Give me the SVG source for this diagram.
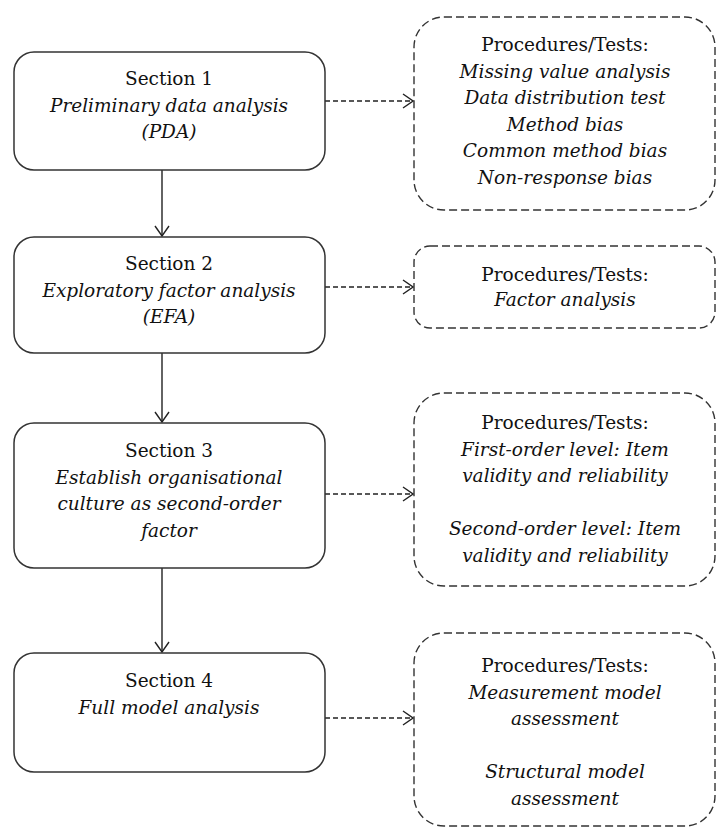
<svg xmlns="http://www.w3.org/2000/svg" width="716" height="828" viewBox="0 0 716 828">
  <style>
    .sec { fill: #fff; stroke: #333; stroke-width: 1.5; }
    .proc { fill: #fff; stroke: #333; stroke-width: 1.4; stroke-dasharray: 8 4; }
    .flow { fill: none; stroke: #222; stroke-width: 1.4; }
    .link { fill: none; stroke: #222; stroke-width: 1.3; stroke-dasharray: 5 3; }
    text { font-size: 18.5px; fill: #111; text-anchor: middle; }
  </style>
  <defs>
    <marker id="chev" viewBox="0 0 12 16" refX="11" refY="8" markerWidth="12" markerHeight="16" markerUnits="userSpaceOnUse" orient="auto">
      <path d="M1,1 L11,8 L1,15" fill="none" stroke="#222" stroke-width="1.4"/>
    </marker>
  </defs>

  <!-- connectors -->
  <g id="connectors">
    <path class="flow" d="M162,170 V236" marker-end="url(#chev)"/>
    <path class="flow" d="M162,353 V422" marker-end="url(#chev)"/>
    <path class="flow" d="M162,568 V652" marker-end="url(#chev)"/>
    <path class="link" d="M325,101 H413" marker-end="url(#chev)"/>
    <path class="link" d="M325,287 H413" marker-end="url(#chev)"/>
    <path class="link" d="M325,494 H413" marker-end="url(#chev)"/>
    <path class="link" d="M325,718 H413" marker-end="url(#chev)"/>
  </g>

  <!-- sections -->
  <g id="section1">
    <rect class="sec" x="14" y="52" width="311" height="118" rx="20"/>
    <text font-family="DejaVu Serif" x="169" y="85">Section 1</text>
    <text font-family="DejaVu Serif" font-style="italic" x="169" y="111.5">Preliminary data analysis</text>
    <text font-family="DejaVu Serif" font-style="italic" x="169" y="138">(PDA)</text>
  </g>
  <g id="section2">
    <rect class="sec" x="14" y="237" width="311" height="116" rx="20"/>
    <text font-family="DejaVu Serif" x="169" y="270">Section 2</text>
    <text font-family="DejaVu Serif" font-style="italic" x="169" y="296.5">Exploratory factor analysis</text>
    <text font-family="DejaVu Serif" font-style="italic" x="169" y="323">(EFA)</text>
  </g>
  <g id="section3">
    <rect class="sec" x="14" y="423" width="311" height="145" rx="20"/>
    <text font-family="DejaVu Serif" x="169" y="457">Section 3</text>
    <text font-family="DejaVu Serif" font-style="italic" x="169" y="483.5">Establish organisational</text>
    <text font-family="DejaVu Serif" font-style="italic" x="169" y="510">culture as second-order</text>
    <text font-family="DejaVu Serif" font-style="italic" x="169" y="536.5">factor</text>
  </g>
  <g id="section4">
    <rect class="sec" x="14" y="653" width="311" height="119" rx="20"/>
    <text font-family="DejaVu Serif" x="169" y="687">Section 4</text>
    <text font-family="DejaVu Serif" font-style="italic" x="169" y="714">Full model analysis</text>
  </g>

  <!-- procedures / tests -->
  <g id="tests1">
    <rect class="proc" x="414" y="17" width="301" height="193" rx="30"/>
    <text font-family="DejaVu Serif" x="565" y="51">Procedures/Tests:</text>
    <text font-family="DejaVu Serif" font-style="italic" x="565" y="77.5">Missing value analysis</text>
    <text font-family="DejaVu Serif" font-style="italic" x="565" y="104">Data distribution test</text>
    <text font-family="DejaVu Serif" font-style="italic" x="565" y="130.5">Method bias</text>
    <text font-family="DejaVu Serif" font-style="italic" x="565" y="157">Common method bias</text>
    <text font-family="DejaVu Serif" font-style="italic" x="565" y="183.5">Non-response bias</text>
  </g>
  <g id="tests2">
    <rect class="proc" x="414" y="246" width="301" height="82" rx="16"/>
    <text font-family="DejaVu Serif" x="565" y="281">Procedures/Tests:</text>
    <text font-family="DejaVu Serif" font-style="italic" x="565" y="306">Factor analysis</text>
  </g>
  <g id="tests3">
    <rect class="proc" x="414" y="393" width="301" height="193" rx="30"/>
    <text font-family="DejaVu Serif" x="565" y="429">Procedures/Tests:</text>
    <text font-family="DejaVu Serif" font-style="italic" x="565" y="455.5">First-order level: Item</text>
    <text font-family="DejaVu Serif" font-style="italic" x="565" y="482">validity and reliability</text>
    <text font-family="DejaVu Serif" font-style="italic" x="565" y="535">Second-order level: Item</text>
    <text font-family="DejaVu Serif" font-style="italic" x="565" y="561.5">validity and reliability</text>
  </g>
  <g id="tests4">
    <rect class="proc" x="414" y="633" width="301" height="193" rx="30"/>
    <text font-family="DejaVu Serif" x="565" y="672">Procedures/Tests:</text>
    <text font-family="DejaVu Serif" font-style="italic" x="565" y="698.5">Measurement model</text>
    <text font-family="DejaVu Serif" font-style="italic" x="565" y="725">assessment</text>
    <text font-family="DejaVu Serif" font-style="italic" x="565" y="778">Structural model</text>
    <text font-family="DejaVu Serif" font-style="italic" x="565" y="804.5">assessment</text>
  </g>
</svg>
